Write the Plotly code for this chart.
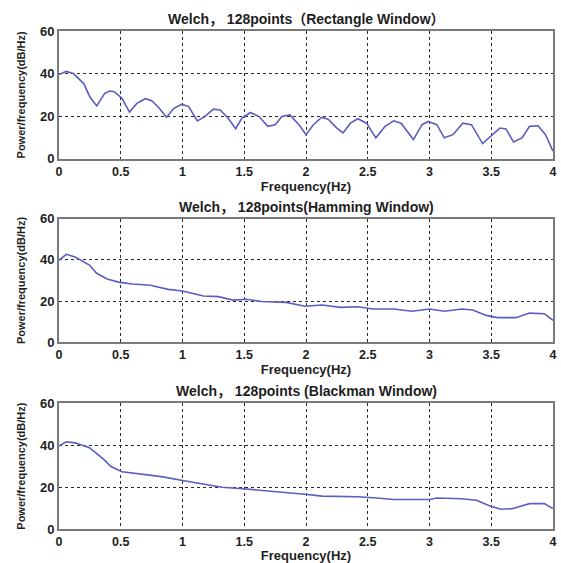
import plotly.graph_objects as go

# ---------------- data ----------------
rect_f = [0, 0.057, 0.116, 0.2, 0.25, 0.305, 0.37, 0.41, 0.446, 0.51, 0.57, 0.63, 0.70, 0.75, 0.805,
          0.87, 0.93, 0.995, 1.05, 1.12, 1.18, 1.25, 1.305, 1.37, 1.43, 1.48, 1.55, 1.62, 1.69, 1.75,
          1.805, 1.87, 1.95, 2.0, 2.06, 2.126, 2.18, 2.25, 2.30, 2.36, 2.42, 2.49, 2.566, 2.64, 2.71,
          2.77, 2.87, 2.94, 2.99, 3.06, 3.12, 3.19, 3.27, 3.34, 3.43, 3.50, 3.57, 3.62, 3.68, 3.75,
          3.81, 3.88, 3.94, 4.0]
rect_p = [39.5, 41, 40, 35.3, 29, 24.8, 30.7, 31.8, 31.5, 28.4, 21.9, 26, 28.2, 27.3, 24.2,
          19.5, 23.7, 25.6, 24.5, 17.8, 19.8, 23.3, 22.9, 19, 14.1, 19, 21.7, 19.8, 15.2, 16,
          19.8, 20.6, 15.5, 11.3, 16, 19.4, 18.6, 14.4, 12.1, 16.7, 18.8, 16.7, 9.8, 15.2, 17.8,
          16.7, 9, 16, 17.5, 16, 9.8, 11.3, 16.7, 16, 7.1, 10.9, 14.4, 14, 7.9, 9.8,
          15.2, 15.5, 11.3, 3.6]

hamm_f = [0, 0.058, 0.13, 0.246, 0.304, 0.39, 0.49, 0.594, 0.74, 0.884, 1.0, 1.17, 1.29, 1.41,
          1.52, 1.64, 1.84, 1.99, 2.13, 2.28, 2.42, 2.54, 2.71, 2.86, 3.0, 3.12, 3.26, 3.35, 3.46,
          3.55, 3.70, 3.81, 3.93, 4.0]
hamm_p = [39.8, 42.7, 41.4, 37.5, 33.5, 30.7, 29.1, 28.3, 27.7, 25.7, 24.9, 22.5, 22.2, 20.5,
          20.9, 19.8, 19.4, 17.5, 18.1, 17, 17.3, 16.2, 16.2, 15.1, 16.2, 15.1, 16.2, 15.7, 13.1,
          12, 12, 14.2, 13.9, 10.7]

black_f = [0, 0.058, 0.13, 0.246, 0.36, 0.42, 0.51, 0.68, 0.83, 1.0, 1.14, 1.32, 1.49, 1.72,
           1.99, 2.13, 2.42, 2.57, 2.71, 3.0, 3.06, 3.26, 3.38, 3.49, 3.58, 3.67, 3.81, 3.93, 4.0]
black_p = [39.6, 41.6, 41.1, 38.8, 33.3, 29.8, 27.3, 26.1, 25, 23.1, 21.8, 19.9, 19.2, 18.1,
           16.6, 15.7, 15.4, 14.8, 14.1, 14.1, 14.8, 14.4, 13.7, 11, 9.4, 9.7, 12.1, 12.1, 9.7]

titles = ["Welch， 128points（Rectangle Window）",
          "Welch， 128points(Hamming Window)",
          "Welch， 128points (Blackman Window)"]
x_ticks = [0, 0.5, 1, 1.5, 2, 2.5, 3, 3.5, 4]
x_tick_labels = ["0", "0.5", "1", "1.5", "2", "2.5", "3", "3.5", "4"]
y_ticks = [0, 20, 40, 60]
x_label = "Frequency(Hz)"
y_label = "Power/frequency(dB/Hz)"

# ---------------- figure ----------------
FONT = "Liberation Sans, Arial, Noto Sans CJK SC, sans-serif"
LINE = "#5a5ec2"
TXT = "#1e1e1e"

fig = go.Figure()
series = [(rect_f, rect_p), (hamm_f, hamm_p), (black_f, black_p)]
domains = [[0.7435, 1.0], [0.3747, 0.6232], [0.0, 0.2525]]

for i, (f, p) in enumerate(series):
    sfx = "" if i == 0 else str(i + 1)
    fig.add_trace(go.Scatter(x=f, y=p, mode="lines", line=dict(color=LINE, width=1.6),
                             xaxis="x" + sfx, yaxis="y" + sfx, showlegend=False,
                             hoverinfo="skip"))
    ax = dict(range=[-0.0005, 4.0005], tickvals=x_ticks, ticktext=x_tick_labels,
              showgrid=True, gridcolor="#2a2a2a", griddash="dot", gridwidth=1,
              zeroline=False, showline=True, linecolor="#7a7a7a", linewidth=2, mirror=True,
              ticks="", automargin=False,
              tickfont=dict(family=FONT, size=12.5, color=TXT, weight="bold"),
              title=dict(text=x_label, font=dict(family=FONT, size=13, color=TXT, weight="bold"),
                         standoff=2),
              anchor="y" + sfx, domain=[0, 1])
    ay = dict(range=[0, 60], tickvals=y_ticks,
              showgrid=True, gridcolor="#2a2a2a", griddash="dot", gridwidth=1,
              zeroline=False, showline=True, linecolor="#7a7a7a", linewidth=2, mirror=True,
              ticks="", automargin=False,
              tickfont=dict(family=FONT, size=13, color=TXT, weight="bold"),
              title=dict(text=y_label, font=dict(family=FONT, size=11, color=TXT, weight="bold"),
                         standoff=12),
              anchor="x" + sfx, domain=domains[i])
    fig.layout["xaxis" + sfx] = ax
    fig.layout["yaxis" + sfx] = ay
    fig.add_annotation(text=titles[i], xref="paper", yref="paper",
                       x=0.5, y=domains[i][1], yshift=2, xanchor="center", yanchor="bottom",
                       showarrow=False,
                       font=dict(family=FONT, size=14, color=TXT, weight="bold"))

fig.update_layout(width=561, height=563, margin=dict(l=59, r=8, t=31, b=34),
                  paper_bgcolor="white", plot_bgcolor="white")

fig.write_html("out.html", config={"displayModeBar": False},
               post_script="document.body.style.margin='0';document.body.style.overflow='hidden';")
